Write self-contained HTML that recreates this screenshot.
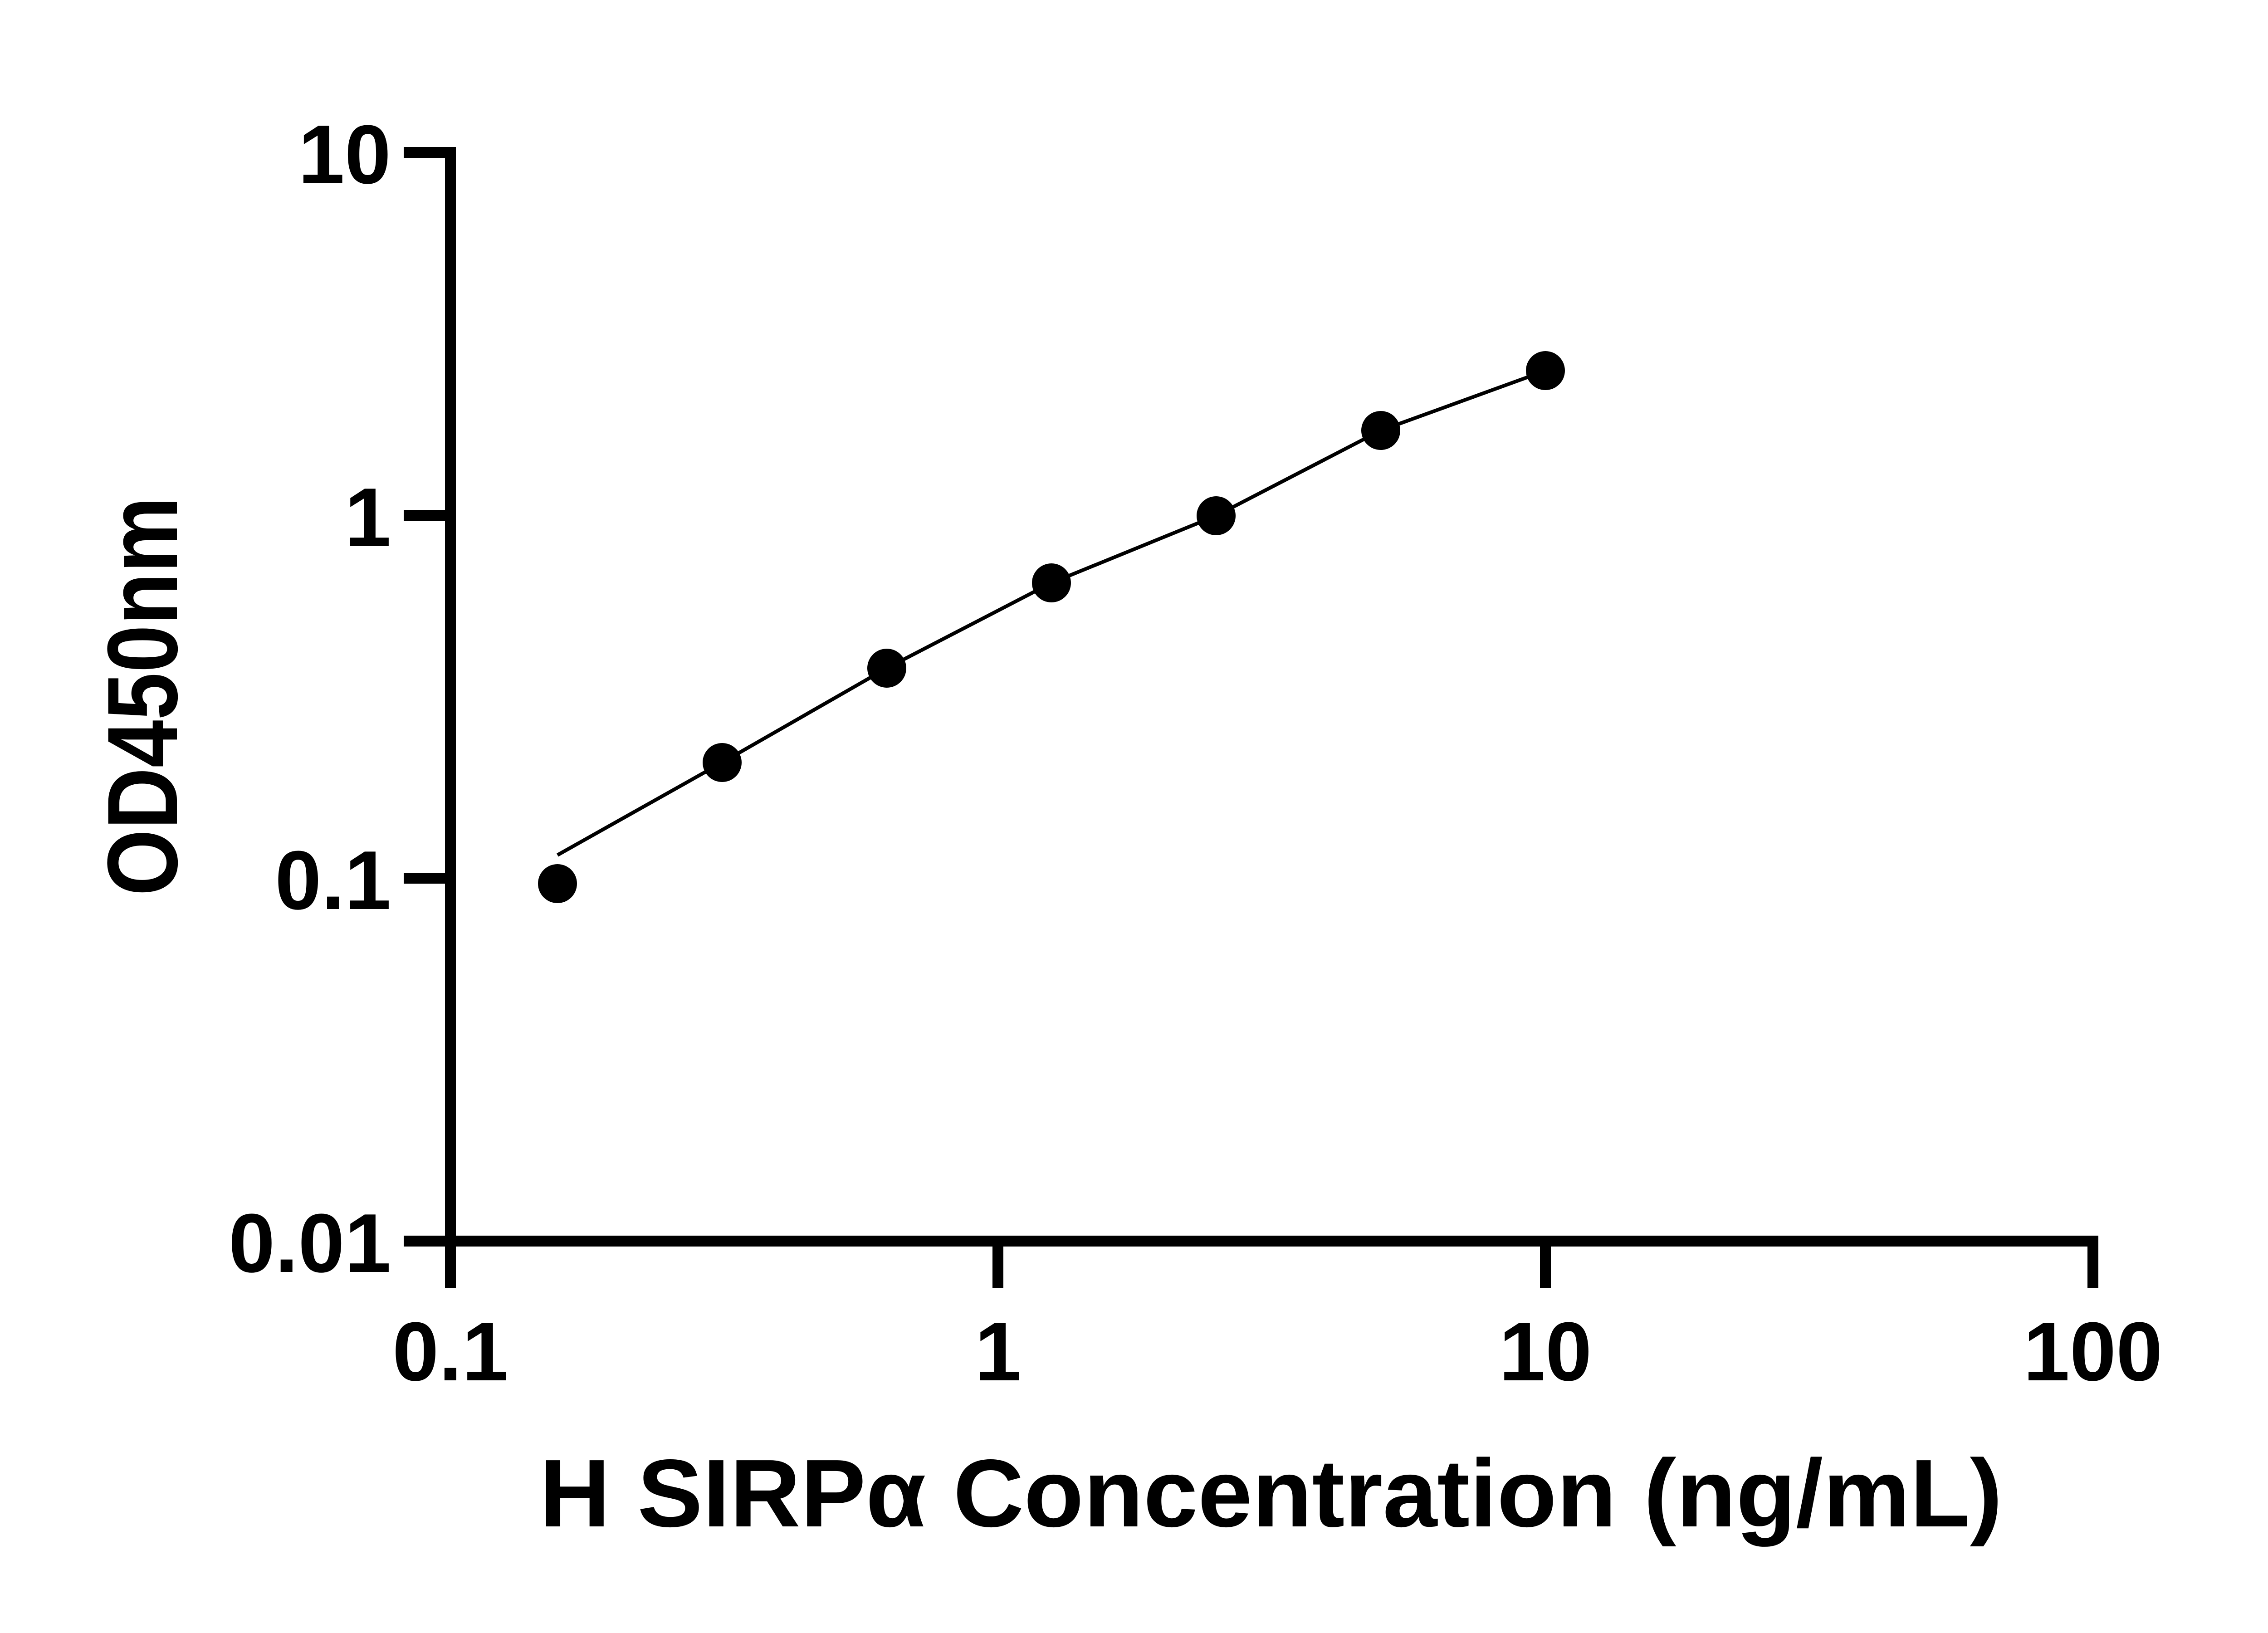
<!DOCTYPE html>
<html><head><meta charset="utf-8"><style>
html,body{margin:0;padding:0;background:#fff;}
svg{display:block;}
text{font-family:"Liberation Sans",Arial,sans-serif;font-weight:bold;fill:#000;}
</style></head><body>
<svg width="5142" height="3600" viewBox="0 0 5142 3600" xmlns="http://www.w3.org/2000/svg">
<g stroke="#000" stroke-width="24" fill="none" stroke-linecap="butt">
<line x1="993" y1="324" x2="993" y2="2748"/>
<line x1="981" y1="2736" x2="4626" y2="2736"/>
<line x1="890" y1="336" x2="1005" y2="336"/>
<line x1="890" y1="1136" x2="993" y2="1136"/>
<line x1="890" y1="1936" x2="993" y2="1936"/>
<line x1="890" y1="2736" x2="993" y2="2736"/>
<line x1="993" y1="2736" x2="993" y2="2840"/>
<line x1="2200" y1="2736" x2="2200" y2="2840"/>
<line x1="3407" y1="2736" x2="3407" y2="2840"/>
<line x1="4614" y1="2736" x2="4614" y2="2840"/>
</g>
<g font-size="184" text-anchor="end">
<text x="862" y="404">10</text>
<text x="862" y="1204">1</text>
<text x="862" y="2004">0.1</text>
<text x="862" y="2804">0.01</text>
</g>
<g font-size="184" text-anchor="middle">
<text x="993" y="3043">0.1</text>
<text x="2200" y="3043">1</text>
<text x="3407" y="3043">10</text>
<text x="4614" y="3043">100</text>
</g>
<text x="2802" y="3365" font-size="212" text-anchor="middle" textLength="3225" lengthAdjust="spacingAndGlyphs">H SIRPα Concentration (ng/mL)</text>
<text transform="translate(390,1535) rotate(-90)" font-size="220" text-anchor="middle" textLength="880" lengthAdjust="spacingAndGlyphs">OD450nm</text>
<polyline fill="none" stroke="#000" stroke-width="8" points="1229,1885 1592,1681 1955,1473 2318,1285 2681,1137 3044,949 3372,830"/>
<g fill="#000">
<circle cx="1229" cy="1948" r="43"/>
<circle cx="1592" cy="1681" r="43"/>
<circle cx="1955" cy="1473" r="43"/>
<circle cx="2318" cy="1285" r="43"/>
<circle cx="2681" cy="1137" r="43"/>
<circle cx="3044" cy="949" r="43"/>
<circle cx="3407" cy="817" r="43"/>
</g>
</svg>
</body></html>
